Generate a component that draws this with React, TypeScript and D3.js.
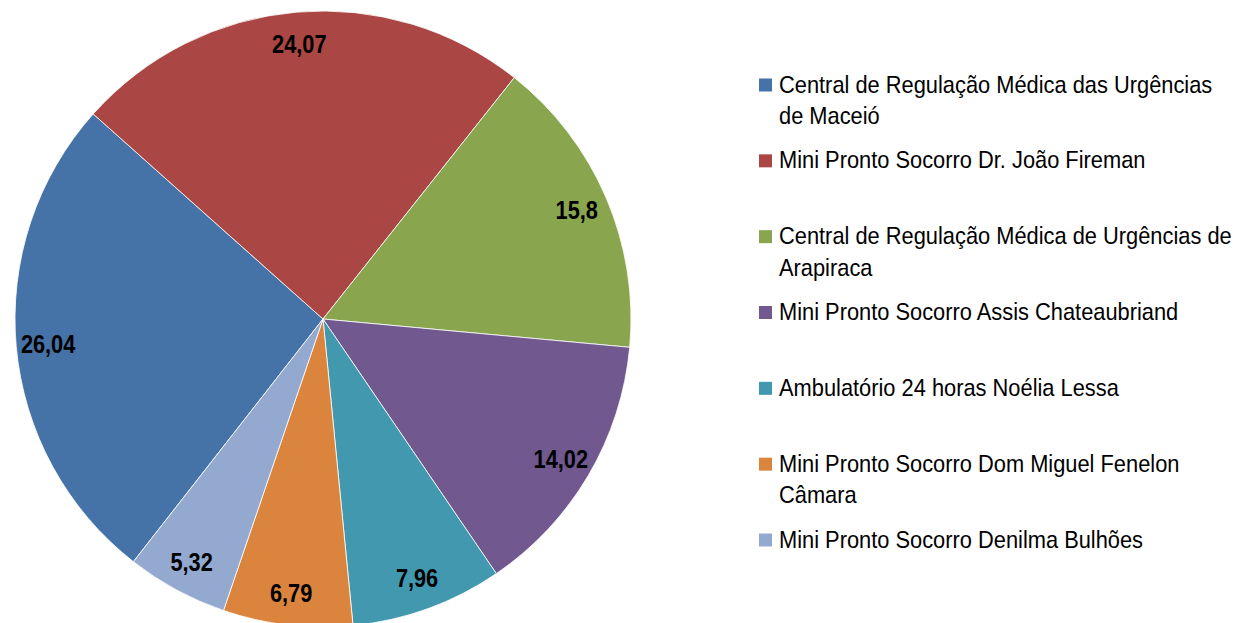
import { useEffect, useRef } from "react";
import * as d3 from "d3";

// shares per service (%)
const categories = [
  "Central de Regulação Médica das Urgências de Maceió",
  "Mini Pronto Socorro Dr. João Fireman",
  "Central de Regulação Médica de Urgências de Arapiraca",
  "Mini Pronto Socorro Assis Chateaubriand",
  "Ambulatório 24 horas Noélia Lessa",
  "Mini Pronto Socorro Dom Miguel Fenelon Câmara",
  "Mini Pronto Socorro Denilma Bulhões",
];
const values = [26.04, 24.07, 15.8, 14.02, 7.96, 6.79, 5.32];
const valueLabels = ["26,04", "24,07", "15,8", "14,02", "7,96", "6,79", "5,32"];
// legend text split into lines as in the original
const legendLines = [
  ["Central de Regulação Médica das Urgências", "de Maceió"],
  ["Mini Pronto Socorro Dr. João Fireman"],
  ["Central de Regulação Médica de Urgências de", "Arapiraca"],
  ["Mini Pronto Socorro Assis Chateaubriand"],
  ["Ambulatório 24 horas Noélia Lessa"],
  ["Mini Pronto Socorro Dom Miguel Fenelon", "Câmara"],
  ["Mini Pronto Socorro Denilma Bulhões"],
];
const colors = ["#4572A7", "#AA4643", "#89A54E", "#71588F", "#4198AF", "#DB843D", "#93A9CF"];

// no Arial Narrow here, so squeeze Liberation Sans horizontally
const FONT = "'Liberation Sans', Arial, sans-serif";
const LEGEND_SX = 0.91;
const LABEL_SX = 0.87;

const App = () => {
  const svgRef = useRef<SVGSVGElement>(null);

  useEffect(() => {
    const cx = 323;
    const cy = 319;
    const radius = 308;

    const svg = d3.select(svgRef.current);
    svg.selectAll("*").remove();

    const data = values.map((v, i) => ({ name: categories[i], value: v, label: valueLabels[i], i }));

    const start = (218 * Math.PI) / 180;
    const pie = d3
      .pie<any>()
      .sort(null)
      .value((d) => d.value)
      .startAngle(start)
      .endAngle(start + 2 * Math.PI);

    const arc = d3.arc<any>().innerRadius(0).outerRadius(radius);
    const labelArc = d3.arc<any>().innerRadius(276).outerRadius(276);

    const color = d3.scaleOrdinal<number, string>().domain(d3.range(values.length)).range(colors);

    const g = svg.append("g").attr("transform", `translate(${cx},${cy})`);
    const arcs = pie(data);

    g.selectAll("path")
      .data(arcs)
      .enter()
      .append("path")
      .attr("d", arc)
      .attr("fill", (d) => color(d.data.i))
      .attr("stroke", "#ffffff")
      .attr("stroke-width", 0.8);

    g.selectAll("text")
      .data(arcs)
      .enter()
      .append("text")
      .attr("transform", (d) => `translate(${labelArc.centroid(d)}) scale(${LABEL_SX},1)`)
      .attr("text-anchor", "middle")
      .attr("dy", "0.36em")
      .attr("font-family", FONT)
      .attr("font-weight", "bold")
      .attr("font-size", 25)
      .attr("fill", "#000")
      .text((d) => d.data.label);

    // legend
    const legendY = d3
      .scalePoint<number>()
      .domain(d3.range(categories.length))
      .range([85, 540]);

    const legend = svg
      .append("g")
      .selectAll("g")
      .data(data)
      .enter()
      .append("g")
      .attr("transform", (d) => `translate(759,${legendY(d.i)})`);

    legend
      .append("rect")
      .attr("x", 0)
      .attr("y", -6.5)
      .attr("width", 13)
      .attr("height", 13)
      .attr("fill", (d) => color(d.i));

    legend
      .append("text")
      .attr("transform", `translate(20,7.5) scale(${LEGEND_SX},1)`)
      .attr("font-family", FONT)
      .attr("font-size", 24)
      .attr("fill", "#000")
      .selectAll("tspan")
      .data((d) => legendLines[d.i])
      .enter()
      .append("tspan")
      .attr("x", 0)
      .attr("dy", (_, j) => (j === 0 ? 0 : 31.5))
      .text((t) => t);
  }, []);

  return (
    <svg
      ref={svgRef}
      width="1238"
      height="623"
      style={{ position: "absolute", left: 0, top: 0, background: "#fff" }}
    ></svg>
  );
};

export default App;
